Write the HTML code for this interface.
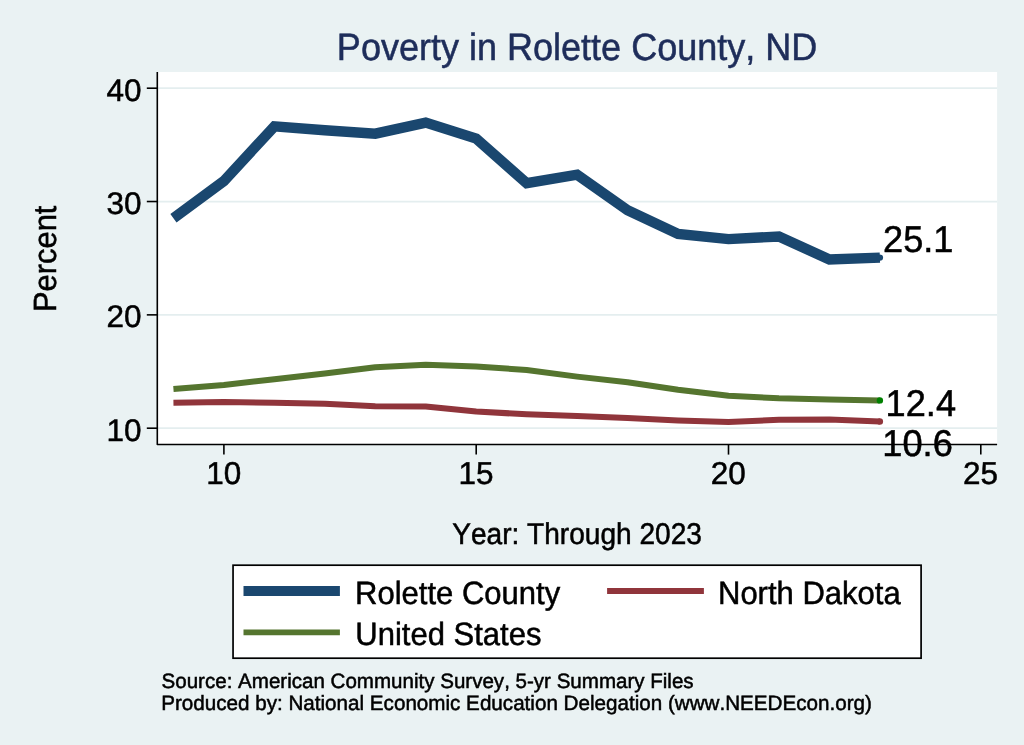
<!DOCTYPE html>
<html><head><meta charset="utf-8"><title>Poverty in Rolette County, ND</title>
<style>html,body{margin:0;padding:0;background:#eaf2f3;}svg{display:block;will-change:transform;}text{font-family:"Liberation Sans", sans-serif;text-rendering:geometricPrecision;font-kerning:none;font-feature-settings:"kern" 0;}</style>
</head><body>
<svg width="1024" height="745" viewBox="0 0 1024 745">
<rect x="0" y="0" width="1024" height="745" fill="#eaf2f3"/>
<rect x="157.3" y="72" width="839.8" height="372.6" fill="#fff"/>
<line x1="158" x2="997.1" y1="428.19" y2="428.19" stroke="#e4eeef" stroke-width="1.8"/>
<line x1="158" x2="997.1" y1="314.86" y2="314.86" stroke="#e4eeef" stroke-width="1.8"/>
<line x1="158" x2="997.1" y1="201.53" y2="201.53" stroke="#e4eeef" stroke-width="1.8"/>
<line x1="158" x2="997.1" y1="88.20" y2="88.20" stroke="#e4eeef" stroke-width="1.8"/>
<polyline points="173.44,402.75 223.90,401.90 274.36,402.70 324.82,403.80 375.28,406.30 425.74,406.50 476.20,411.50 526.66,414.30 577.12,416.00 627.58,418.10 678.04,420.60 728.50,422.00 778.96,419.80 829.42,419.40 879.88,421.50" fill="none" stroke="#90353b" stroke-width="6" stroke-linejoin="round"/>
<polyline points="173.44,388.90 223.90,385.05 274.36,379.20 324.82,373.50 375.28,367.30 425.74,364.75 476.20,366.40 526.66,370.04 577.12,376.60 627.58,382.20 678.04,389.80 728.50,395.85 778.96,398.30 829.42,399.60 879.88,400.40" fill="none" stroke="#55752f" stroke-width="6" stroke-linejoin="round"/>
<polyline points="173.44,218.20 223.90,181.00 274.36,126.40 324.82,130.30 375.28,133.70 425.74,122.60 476.20,138.60 526.66,183.20 577.12,174.70 627.58,210.20 678.04,234.00 728.50,239.10 778.96,236.50 829.42,259.50 879.88,257.60" fill="none" stroke="#1a476f" stroke-width="10.4" stroke-linejoin="miter" stroke-miterlimit="10"/>
<circle cx="879.88" cy="257.60" r="3.2" fill="#1a476f"/>
<circle cx="879.88" cy="400.40" r="3.2" fill="#008000"/>
<circle cx="879.88" cy="421.50" r="3.2" fill="#90353b"/>
<text transform="translate(883.02 251.60) scale(1 1.0300)" font-size="36.20" fill="#000" stroke="#000" stroke-width="0.50">25.1</text>
<text transform="translate(885.61 415.80) scale(1 1.0300)" font-size="36.20" fill="#000" stroke="#000" stroke-width="0.50">12.4</text>
<text transform="translate(882.36 455.70) scale(1 1.0300)" font-size="36.20" fill="#000" stroke="#000" stroke-width="0.50">10.6</text>
<path d="M157.3 72 V444.5 H997.1" fill="none" stroke="#000" stroke-width="1.6" stroke-linejoin="round"/>
<line x1="146.8" x2="157.3" y1="428.19" y2="428.19" stroke="#000" stroke-width="1.6"/>
<line x1="146.8" x2="157.3" y1="314.86" y2="314.86" stroke="#000" stroke-width="1.6"/>
<line x1="146.8" x2="157.3" y1="201.53" y2="201.53" stroke="#000" stroke-width="1.6"/>
<line x1="146.8" x2="157.3" y1="88.20" y2="88.20" stroke="#000" stroke-width="1.6"/>
<line x1="223.90" x2="223.90" y1="444.5" y2="454.6" stroke="#000" stroke-width="1.6"/>
<line x1="476.20" x2="476.20" y1="444.5" y2="454.6" stroke="#000" stroke-width="1.6"/>
<line x1="728.50" x2="728.50" y1="444.5" y2="454.6" stroke="#000" stroke-width="1.6"/>
<line x1="980.80" x2="980.80" y1="444.5" y2="454.6" stroke="#000" stroke-width="1.6"/>
<text transform="translate(141.60 440.64) scale(1 0.9888)" font-size="31.50" text-anchor="end" fill="#000" stroke="#000" stroke-width="0.50">10</text>
<text transform="translate(141.60 327.31) scale(1 0.9888)" font-size="31.50" text-anchor="end" fill="#000" stroke="#000" stroke-width="0.50">20</text>
<text transform="translate(141.60 213.98) scale(1 0.9888)" font-size="31.50" text-anchor="end" fill="#000" stroke="#000" stroke-width="0.50">30</text>
<text transform="translate(141.60 100.65) scale(1 0.9888)" font-size="31.50" text-anchor="end" fill="#000" stroke="#000" stroke-width="0.50">40</text>
<text transform="translate(223.70 483.80) scale(1 1.0043)" font-size="31.50" text-anchor="middle" fill="#000" stroke="#000" stroke-width="0.50">10</text>
<text transform="translate(476.00 483.80) scale(1 1.0043)" font-size="31.50" text-anchor="middle" fill="#000" stroke="#000" stroke-width="0.50">15</text>
<text transform="translate(728.30 483.80) scale(1 1.0043)" font-size="31.50" text-anchor="middle" fill="#000" stroke="#000" stroke-width="0.50">20</text>
<text transform="translate(980.60 483.80) scale(1 1.0043)" font-size="31.50" text-anchor="middle" fill="#000" stroke="#000" stroke-width="0.50">25</text>
<text transform="translate(336.87 59.80) scale(1 1.0556)" font-size="36.03" fill="#1e2d5a" stroke="#1e2d5a" stroke-width="0.50">Poverty in Rolette County, ND</text>
<text transform="translate(55.50 312.06) rotate(-90) scale(1 1.0400)" font-size="30.90" fill="#000" stroke="#000" stroke-width="0.50">Percent</text>
<text transform="translate(452.18 543.80) scale(1 1.0660)" font-size="28.08" fill="#000" stroke="#000" stroke-width="0.50">Year: Through 2023</text>
<rect x="233.05" y="565.2" width="688.05" height="93.0" fill="#fff" stroke="#000" stroke-width="1.7"/>
<line x1="243.5" x2="339.9" y1="591" y2="591" stroke="#1a476f" stroke-width="10"/>
<line x1="243.5" x2="339.9" y1="632.4" y2="632.4" stroke="#55752f" stroke-width="5.8"/>
<line x1="607.1" x2="703.9" y1="591" y2="591" stroke="#90353b" stroke-width="5.8"/>
<text transform="translate(355.07 604.10) scale(1 1.0400)" font-size="31.00" fill="#000" stroke="#000" stroke-width="0.50">Rolette County</text>
<text transform="translate(355.31 644.60) scale(1 1.0400)" font-size="31.00" fill="#000" stroke="#000" stroke-width="0.50">United States</text>
<text transform="translate(717.99 604.10) scale(1 1.0400)" font-size="31.00" fill="#000" stroke="#000" stroke-width="0.50">North Dakota</text>
<text transform="translate(161.56 688.30) scale(1 1.0094)" font-size="20.56" fill="#000" stroke="#000" stroke-width="0.50">Source: American Community Survey, 5-yr Summary Files</text>
<text transform="translate(161.17 709.80) scale(1 1.0094)" font-size="20.64" fill="#000" stroke="#000" stroke-width="0.50">Produced by: National Economic Education Delegation (www.NEEDEcon.org)</text>
</svg>
</body></html>
